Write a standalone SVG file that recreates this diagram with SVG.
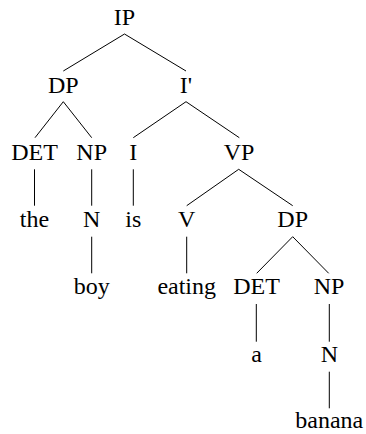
<svg xmlns="http://www.w3.org/2000/svg" width="366" height="434" viewBox="0 0 366 434">
<style>
.t{font-family:'Liberation Serif','Times New Roman',Times,serif;font-size:24px;fill:#000;text-anchor:middle}
#edges line{stroke:#000;stroke-width:1}
</style>
<rect width="366" height="434" fill="#fff"/>
<g id="edges">
<line x1="124.5" y1="34" x2="63.3" y2="71"/>
<line x1="124.5" y1="34" x2="186" y2="71"/>
<line x1="63.3" y1="101.7" x2="35" y2="137.7"/>
<line x1="63.3" y1="101.7" x2="91.7" y2="137.7"/>
<line x1="186" y1="101.7" x2="133.3" y2="137.7"/>
<line x1="186" y1="101.7" x2="239.3" y2="137.7"/>
<line x1="34.5" y1="169.3" x2="34.5" y2="205.7"/>
<line x1="91.7" y1="169.3" x2="91.7" y2="205.7"/>
<line x1="133.3" y1="169.3" x2="133.3" y2="205.7"/>
<line x1="238.7" y1="169.3" x2="186.7" y2="205.7"/>
<line x1="238.7" y1="169.3" x2="292.7" y2="205.7"/>
<line x1="91.7" y1="236.7" x2="91.7" y2="273.3"/>
<line x1="186.7" y1="236.7" x2="186.7" y2="273.3"/>
<line x1="292.7" y1="236.7" x2="256.7" y2="273.3"/>
<line x1="292.7" y1="236.7" x2="328.7" y2="273.3"/>
<line x1="256.3" y1="304" x2="256.3" y2="341.7"/>
<line x1="329.3" y1="304" x2="329.3" y2="341.7"/>
<line x1="329.3" y1="371.7" x2="329.3" y2="408.3"/>
</g>
<g font-family="Liberation Serif, serif" class="t">
<g id="n-ip"><text class="t" x="124.5" y="25">IP</text></g>
<g id="n-dp1"><text class="t" x="63.3" y="93">DP</text></g>
<g id="n-ibar"><text class="t" x="186" y="93">I'</text></g>
<g id="n-det1"><text class="t" x="34.5" y="159.5">DET</text></g>
<g id="n-np1"><text class="t" x="91.7" y="159.5">NP</text></g>
<g id="n-i"><text class="t" x="133.3" y="159.5">I</text></g>
<g id="n-vp"><text class="t" x="239" y="159.5">VP</text></g>
<g id="n-the"><text class="t" x="34.5" y="227">the</text></g>
<g id="n-n1"><text class="t" x="91.7" y="227">N</text></g>
<g id="n-is"><text class="t" x="133.3" y="227">is</text></g>
<g id="n-v"><text class="t" x="186.7" y="227">V</text></g>
<g id="n-dp2"><text class="t" x="292.7" y="227">DP</text></g>
<g id="n-boy"><text class="t" x="91.7" y="294">boy</text></g>
<g id="n-eating"><text class="t" x="186.7" y="294">eating</text></g>
<g id="n-det2"><text class="t" x="256.5" y="294">DET</text></g>
<g id="n-np2"><text class="t" x="329" y="294">NP</text></g>
<g id="n-a"><text class="t" x="256.5" y="362">a</text></g>
<g id="n-n2"><text class="t" x="329.3" y="362">N</text></g>
<g id="n-banana"><text class="t" x="329.3" y="428">banana</text></g>
</g>
</svg>
